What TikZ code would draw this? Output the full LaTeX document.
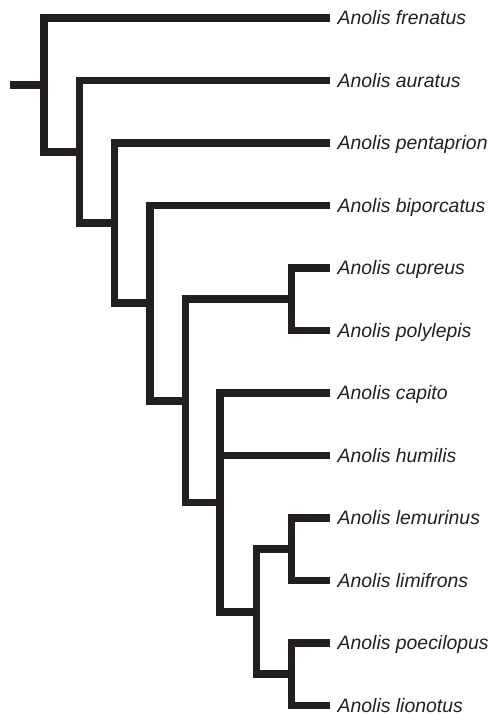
\documentclass[tikz,border=0pt]{standalone}
\usepackage{fontspec}
\setmainfont{Liberation Sans}
\usepackage{tikz}
\definecolor{treeInk}{RGB}{35,31,32}
\tikzset{
  branch/.style={line width=7.7pt,draw=treeInk,line join=miter},
  taxon/.style={anchor=west,inner xsep=7.5pt,inner ysep=0pt,text height=13.8pt,text depth=0pt,text=treeInk,font=\fontsize{19.4}{23}\selectfont\itshape}
}
\begin{document}
\begin{tikzpicture}[x=1pt,y=-1pt]
  \useasboundingbox (0,0) rectangle (491,714);
  % tips
  \foreach \sp [count=\i] in {frenatus,auratus,pentaprion,biporcatus,cupreus,polylepis,capito,humilis,lemurinus,limifrons,poecilopus,lionotus}
    \node[taxon] (t\i) at (330,{18+62.5*(\i-1)}) {Anolis \sp};
  % internal nodes
  \coordinate (root) at (10,84.9);
  \coordinate (c1) at (44,84.9);
  \coordinate (c2) at (79.5,151.8);
  \coordinate (c3) at (114.5,223.1);
  \coordinate (c4) at (150,303.2);
  \coordinate (c5) at (185.5,400.8);
  \coordinate (cCup) at (291.5,299.25);
  \coordinate (c6) at (220,502.4);
  \coordinate (c7) at (256.5,611.75);
  \coordinate (cLem) at (291.5,549.25);
  \coordinate (cPoe) at (291.5,674.25);
  % branches
  \draw[branch] (root) -- (c1);
  \draw[branch] (c1) |- (t1.west);
  \draw[branch] (c1) |- (c2);
  \draw[branch] (c2) |- (t2.west);
  \draw[branch] (c2) |- (c3);
  \draw[branch] (c3) |- (t3.west);
  \draw[branch] (c3) |- (c4);
  \draw[branch] (c4) |- (t4.west);
  \draw[branch] (c4) |- (c5);
  \draw[branch] (c5) |- (cCup);
  \draw[branch] (cCup) |- (t5.west);
  \draw[branch] (cCup) |- (t6.west);
  \draw[branch] (c5) |- (c6);
  \draw[branch] (c6) |- (t7.west);
  \draw[branch] (t8.west) -- (t8.west -| c6);
  \draw[branch] (c6) |- (c7);
  \draw[branch] (c7) |- (cLem);
  \draw[branch] (c7) |- (cPoe);
  \draw[branch] (cLem) |- (t9.west);
  \draw[branch] (cLem) |- (t10.west);
  \draw[branch] (cPoe) |- (t11.west);
  \draw[branch] (cPoe) |- (t12.west);
\end{tikzpicture}
\end{document}
